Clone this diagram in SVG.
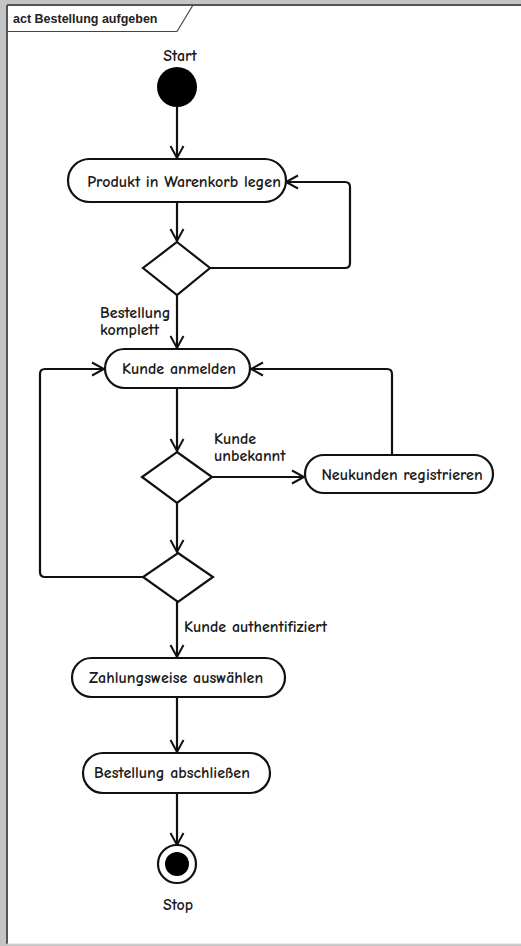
<svg xmlns="http://www.w3.org/2000/svg" width="521" height="946" viewBox="0 0 521 946">
<defs>
<style>
.act{fill:#fff;stroke:#111;stroke-width:2.2}
.dec{fill:#fff;stroke:#111;stroke-width:2.2}
.edge{fill:none;stroke:#111;stroke-width:2.2;stroke-linejoin:round}
.t{font-family:"Comic Neue","Noto Sans","DejaVu Sans",sans-serif;font-weight:bold;font-size:16px;fill:#1a1a1a}
.tc{text-anchor:middle}
</style>
<marker id="arr" markerWidth="16" markerHeight="16" refX="13" refY="8" orient="auto" markerUnits="userSpaceOnUse">
<path d="M1,1.5 L13,8 L1,14.5" fill="none" stroke="#111" stroke-width="2"/>
</marker>
</defs>
<rect x="0" y="0" width="521" height="946" fill="#c4c4c4"/>
<rect x="7" y="5" width="514" height="939" fill="#fff"/>
<line x1="7" y1="5" x2="7" y2="944" stroke="#555" stroke-width="2"/>
<line x1="7" y1="5" x2="521" y2="5" stroke="#555" stroke-width="2"/>
<line x1="7" y1="944" x2="521" y2="944" stroke="#d8d8d8" stroke-width="1"/>
<g id="frame-tab">
<path d="M7,31.5 L177,31.5 L193,5" fill="none" stroke="#444" stroke-width="1.2"/>
<text x="13" y="23" font-family="'Liberation Sans',Arial,sans-serif" font-weight="bold" font-size="12.5" fill="#222">act Bestellung aufgeben</text>
</g>
<g id="connectors">
<path class="edge" d="M177,107 L177,158" marker-end="url(#arr)"/>
<path class="edge" d="M177,202 L177,241" marker-end="url(#arr)"/>
<path class="edge" d="M210,268 L345,268 Q350,268 350,263 L350,187 Q350,182 345,182 L286,182" marker-end="url(#arr)"/>
<path class="edge" d="M177,295 L177,348" marker-end="url(#arr)"/>
<path class="edge" d="M177,388 L177,451" marker-end="url(#arr)"/>
<path class="edge" d="M212,477 L304,477" marker-end="url(#arr)"/>
<path class="edge" d="M392,455 L392,374 Q392,369 387,369 L251,369" marker-end="url(#arr)"/>
<path class="edge" d="M177,503 L177,552" marker-end="url(#arr)"/>
<path class="edge" d="M143,577 L45,577 Q40,577 40,572 L40,374 Q40,369 45,369 L104,369" marker-end="url(#arr)"/>
<path class="edge" d="M177,602 L177,657" marker-end="url(#arr)"/>
<path class="edge" d="M177,697 L177,752" marker-end="url(#arr)"/>
<path class="edge" d="M177,793 L177,845" marker-end="url(#arr)"/>
</g>
<g id="start">
<circle cx="177" cy="87" r="20" fill="#000"/>
<text class="t tc" x="180" y="61">Start</text>
</g>
<g id="produkt">
<rect class="act" x="68" y="159" width="218" height="43" rx="21.5"/>
<text class="t tc" x="184" y="187">Produkt in Warenkorb legen</text>
</g>
<g id="dec1">
<polygon class="dec" points="177,242 210,268 177,295 143,268"/>
</g>
<g id="lbl-komplett">
<text class="t" x="100" y="318">Bestellung</text>
<text class="t" x="100" y="335">komplett</text>
</g>
<g id="anmelden">
<rect class="act" x="105" y="349" width="145" height="39" rx="19.5"/>
<text class="t tc" x="179" y="374">Kunde anmelden</text>
</g>
<g id="dec2">
<polygon class="dec" points="177,452 212,477 177,503 142,477"/>
</g>
<g id="lbl-unbekannt">
<text class="t" x="214" y="444">Kunde</text>
<text class="t" x="214" y="461">unbekannt</text>
</g>
<g id="neukunden">
<rect class="act" x="305" y="455" width="188" height="38" rx="19"/>
<text class="t tc" x="402" y="480">Neukunden registrieren</text>
</g>
<g id="dec3">
<polygon class="dec" points="178,553 213,577 178,602 143,577"/>
</g>
<g id="lbl-auth">
<text class="t" x="184" y="632">Kunde authentifiziert</text>
</g>
<g id="zahlung">
<rect class="act" x="72" y="658" width="213" height="39" rx="19.5"/>
<text class="t tc" x="176" y="683">Zahlungsweise auswählen</text>
</g>
<g id="abschliessen">
<rect class="act" x="83" y="753" width="187" height="40" rx="20"/>
<text class="t tc" x="172" y="778">Bestellung abschließen</text>
</g>
<g id="stop">
<circle cx="177" cy="864" r="19" fill="#fff" stroke="#111" stroke-width="2.2"/>
<circle cx="177" cy="864" r="12" fill="#000"/>
<text class="t tc" x="178" y="910">Stop</text>
</g>
</svg>
